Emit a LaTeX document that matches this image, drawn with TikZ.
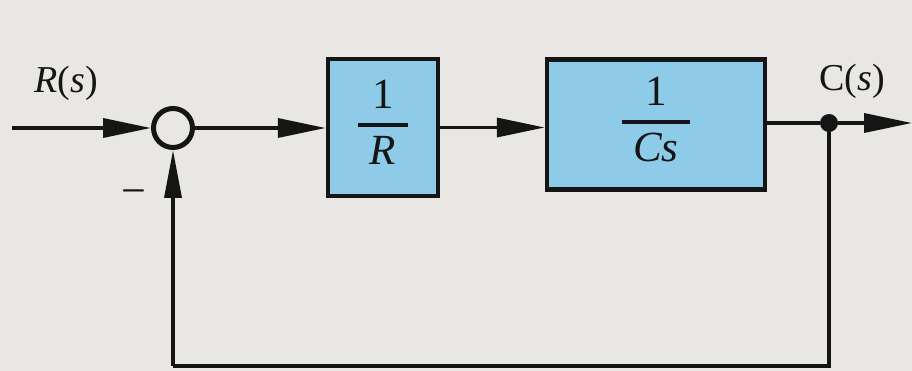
\documentclass[tikz,border=0pt]{standalone}
\usepackage{fontspec}
\setmainfont{Liberation Serif}
\usetikzlibrary{arrows.meta}

\definecolor{paper}{HTML}{E8E7E3}
\definecolor{blockfill}{HTML}{8DCBE8}
\definecolor{ink}{HTML}{151515}

% stacked fraction inside a block: numerator, thick bar, denominator
\newcommand\blkfrac[2]{%
  {\setlength\arrayrulewidth{4pt}%
   \begin{tabular}{@{\hspace{11.5pt}}c@{\hspace{11.5pt}}}
     #1\\\hline
     \rule{0pt}{38pt}#2
   \end{tabular}}}

\begin{document}
\begin{tikzpicture}[x=1pt,y=-1pt,
  blockbox/.style={draw=ink, line width=4.5pt, fill=blockfill, inner sep=0pt,
    font=\fontsize{43}{46}\selectfont, text=ink},
  sumnode/.style={circle, draw=ink, line width=5pt, fill=paper,
    minimum size=39pt, inner sep=0pt},
  tapdot/.style={circle, fill=ink, minimum size=18pt, inner sep=0pt},
  flow/.style={draw=ink, line width=3.5pt,
    -{Triangle[length=48pt,width=19pt]}},
  wire/.style={draw=ink, line width=3.5pt},
  siglabel/.style={font=\fontsize{38}{40}\selectfont, text=ink, anchor=base}]

  % page background and extent
  \fill[paper] (0,0) rectangle (912,371);
  \useasboundingbox (0,0) rectangle (912,371);

  % blocks and junctions
  \node[sumnode] (sum) at (173,128) {};
  \node[blockbox, minimum width=110pt, minimum height=137pt] (b1) at (383,127.5)
    {\blkfrac{1}{\textit{R}}};
  \node[blockbox, minimum width=218pt, minimum height=130pt] (b2) at (656,124.5)
    {\blkfrac{1}{\textit{Cs}}};
  \node[tapdot] (dot) at (829,123) {};

  \coordinate (in) at (12,128);
  \coordinate (out) at (912,123);
  \coordinate (bl) at (173,366);

  % forward path
  \draw[flow] (in) -- (sum);
  \draw[flow] (sum) -- (sum -| b1.west);
  \draw[flow] (b1.east) -- (b1.east -| b2.west);
  \draw[wire] (b2.east |- dot) -- (dot);
  \draw[flow] (dot) -- (out);

  % feedback path
  \draw[wire] (dot.center) |- (bl);
  \draw[draw=ink, line width=3.5pt, -{Triangle[length=48pt,width=17pt]}]
    (bl) -- (sum.south);

  % signal labels
  \node[siglabel] (rlab) at (66,93) {\textit{R}(\textit{s})};
  \node[siglabel] (clab) at (852,91) {C(\textit{s})};
  \node[font=\fontsize{44}{46}\selectfont, text=ink] (minus) at (134,198) {−};
\end{tikzpicture}
\end{document}
